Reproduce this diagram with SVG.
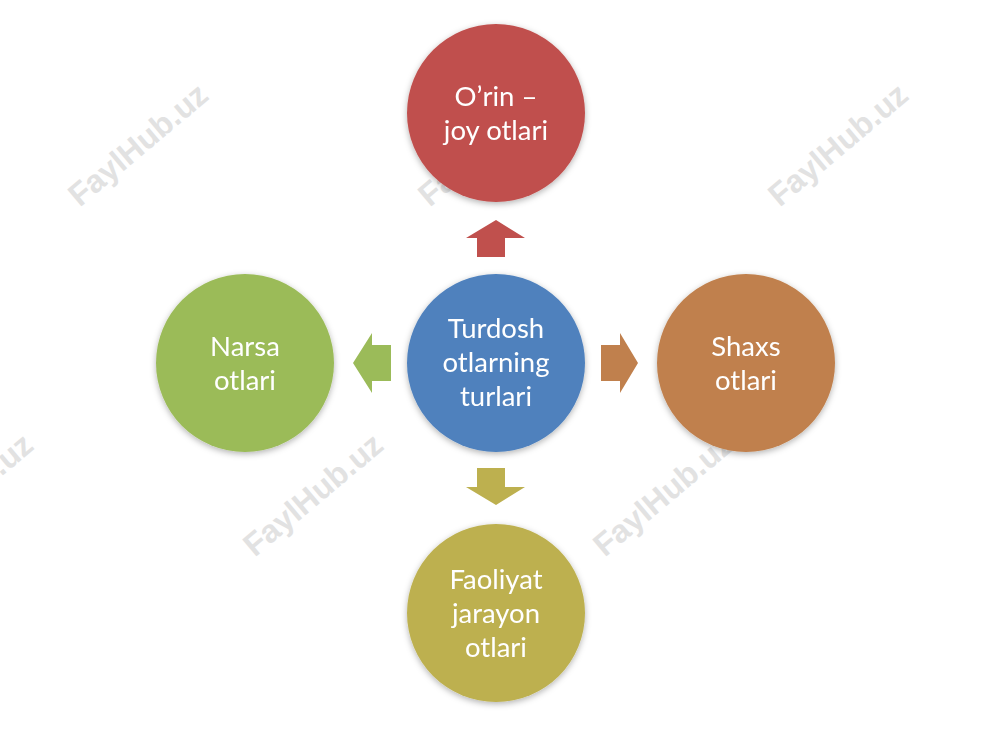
<svg xmlns="http://www.w3.org/2000/svg" width="1000" height="750" viewBox="0 0 1000 750">
<style>
.t{font-family:Lato,"Liberation Sans",sans-serif;font-size:27.5px;fill:#fff;text-anchor:middle}
.w{font-family:"Liberation Sans",Arial,sans-serif;font-size:32px;font-weight:bold;fill:#e2e2e2;text-anchor:middle}
</style>
<defs>
<filter id="sh" x="-20%" y="-20%" width="140%" height="140%"><feDropShadow dx="0" dy="2" stdDeviation="3" flood-color="#000" flood-opacity="0.3"/></filter>
</defs>
<rect width="1000" height="750" fill="#fff"/>
<g id="watermarks">
<text class="w" transform="translate(145,153) rotate(-40)">FaylHub.uz</text>
<text class="w" transform="translate(495,153) rotate(-40)">FaylHub.uz</text>
<text class="w" transform="translate(845,153) rotate(-40)">FaylHub.uz</text>
<text class="w" transform="translate(320,503) rotate(-40)">FaylHub.uz</text>
<text class="w" transform="translate(670,503) rotate(-40)">FaylHub.uz</text>
<text class="w" transform="translate(-30,503) rotate(-40)">FaylHub.uz</text>
</g>
<g id="connectors">
<polygon fill="#c0504d" points="477,257 505,257 505,238 525,238 496,220 466,238 477,238"/>
<polygon fill="#9bbb59" points="391,345 391,381 372,381 372,393 353,363 372,333 372,345"/>
<polygon fill="#c0804d" points="601,345 601,381 620,381 620,393 638,363 620,333 620,345"/>
<polygon fill="#bdb04f" points="477,468 505,468 505,487 525,487 496,505 466,487 477,487"/>
</g>
<g id="center" filter="url(#sh)"><circle cx="496" cy="363" r="89" fill="#4f81bd"/>
<text class="t" x="496" y="338">Turdosh</text><text class="t" x="496" y="372">otlarning</text><text class="t" x="496" y="406">turlari</text></g>
<g id="top" filter="url(#sh)"><circle cx="496" cy="113" r="89" fill="#c0504d"/>
<text class="t" x="496" y="106">O’rin –</text><text class="t" x="496" y="140">joy otlari</text></g>
<g id="left" filter="url(#sh)"><circle cx="245" cy="363" r="89" fill="#9bbb59"/>
<text class="t" x="245" y="356">Narsa</text><text class="t" x="245" y="390">otlari</text></g>
<g id="right" filter="url(#sh)"><circle cx="746" cy="363" r="89" fill="#c0804d"/>
<text class="t" x="746" y="356">Shaxs</text><text class="t" x="746" y="390">otlari</text></g>
<g id="bottom" filter="url(#sh)"><circle cx="496" cy="613" r="89" fill="#bdb04f"/>
<text class="t" x="496" y="589">Faoliyat</text><text class="t" x="496" y="623">jarayon</text><text class="t" x="496" y="657">otlari</text></g>
</svg>
